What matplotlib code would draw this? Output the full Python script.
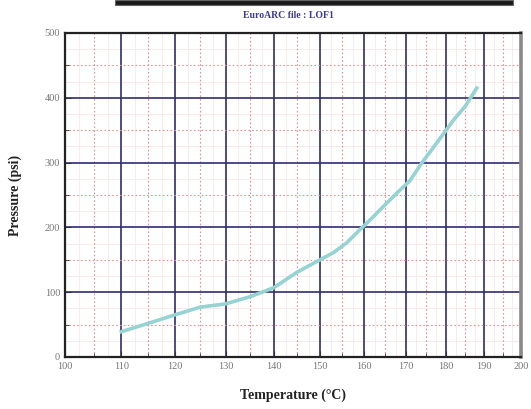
import matplotlib
matplotlib.use("Agg")
import matplotlib.pyplot as plt
from matplotlib.patches import Rectangle
from matplotlib.ticker import FixedLocator
import numpy as np

# vapour pressure curve
temperature_c = [110, 115, 120, 125, 130, 135, 140, 145, 150, 153, 156, 159,
                 162, 165, 168, 171, 174, 178, 182, 185, 188]
pressure_psi = [39, 52, 65, 77, 82, 93, 107, 131, 150, 161, 176, 196,
                215, 235, 254, 272, 300, 333, 366, 387, 415]

x_major = list(range(100, 201, 10))
x_minor = list(range(105, 200, 10))
x_faint = list(np.arange(102.5, 200, 5))
y_major = list(range(0, 501, 100))
y_minor = list(range(50, 500, 100))
y_faint = list(range(25, 500, 50))


def to_recip(t):
    return -1.0 / (np.asarray(t, dtype=float) + 273.15)


def from_recip(v):
    return -1.0 / np.asarray(v, dtype=float) - 273.15


serif = ["Liberation Serif", "DejaVu Serif"]

fig = plt.figure(figsize=(5.31, 4.09), dpi=100)
ax = fig.add_axes([65 / 531, 52 / 409, 456 / 531, 324 / 409])
ax.set_xscale("function", functions=(to_recip, from_recip))
ax.set_xlim(100, 200)
ax.set_ylim(0, 500)

ax.xaxis.set_major_locator(FixedLocator(x_major))
ax.xaxis.set_minor_locator(FixedLocator(x_minor))
ax.yaxis.set_major_locator(FixedLocator(y_major))
ax.yaxis.set_minor_locator(FixedLocator(y_minor))

for v in x_faint:
    ax.axvline(v, color="#f8e8e8", lw=0.6, zorder=0)
for v in y_faint:
    ax.axhline(v, color="#f8e8e8", lw=0.6, zorder=0)

ax.grid(which="major", color="#2e2e70", lw=1.2, zorder=1)
ax.grid(which="minor", color="#e89090", lw=0.8, ls=(0, (1.5, 2)), zorder=1)
ax.set_axisbelow(True)

ax.plot(temperature_c, pressure_psi, color="#96d3d3", lw=2.6, zorder=3)

ax.tick_params(which="both", direction="in", length=4, color="#333333",
               labelsize=7.5, labelcolor="#777777")
ax.tick_params(which="minor", length=3)
for lab in ax.get_xticklabels() + ax.get_yticklabels():
    lab.set_family(serif)

for side in ["left", "bottom", "top"]:
    ax.spines[side].set_color("#222222")
    ax.spines[side].set_linewidth(1.6)
ax.spines["right"].set_color("#8a8a8a")
ax.spines["right"].set_linewidth(2.6)

ax.set_xlabel("Temperature (°C)", family=serif, fontweight="bold",
              fontsize=10, labelpad=13, color="#222222")
ax.set_ylabel("Pressure (psi)", family=serif, fontweight="bold",
              fontsize=10, labelpad=16, color="#222222")

fig.text(288 / 531, 1 - 15 / 409, "EuroARC file : LOF1", family=serif,
         fontweight="bold", fontsize=7, color="#3a3a9a",
         ha="center", va="center")

fig.patches.append(Rectangle((115 / 531, 1 - 5 / 409), 398 / 531, 5 / 409,
                             transform=fig.transFigure, facecolor="#1a1a1a",
                             edgecolor="#666666", lw=0.8))

fig.savefig("out.png", dpi=100)
